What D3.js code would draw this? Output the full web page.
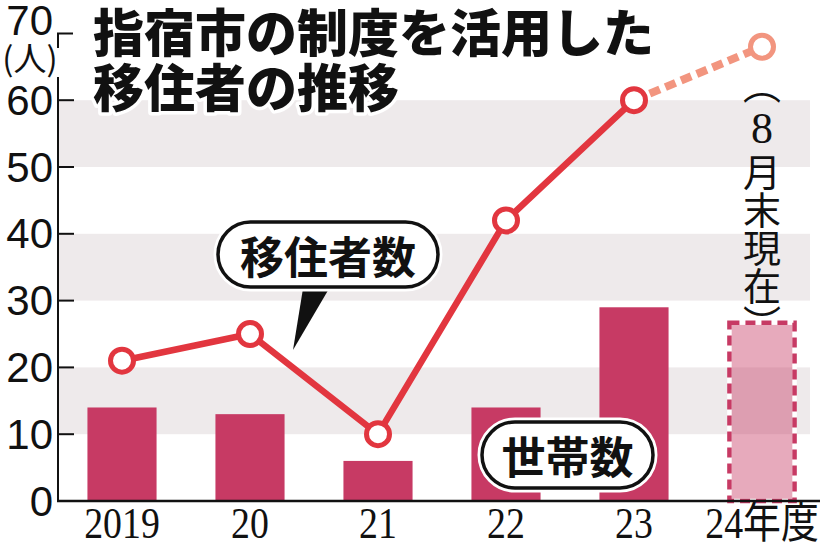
<!DOCTYPE html>
<html><head><meta charset="utf-8">
<script src="https://cdn.jsdelivr.net/npm/d3@7"></script>
<style>
html,body{margin:0;padding:0;background:#fff;}
svg{display:block;}
</style></head>
<body>
<svg id="chart" width="827" height="544"></svg>
<script>
const categories = ["2019", "20", "21", "22", "23", "24年度"];
const households = [14, 13, 6, 14, 29, 27];
const migrants = [21, 25, 10, 42, 60, 68];
const yTicks = [0, 10, 20, 30, 40, 50, 60, 70];
const bandRanges = [[10, 20], [30, 40], [50, 60]];
const titleLines = ["指宿市の制度を活用した", "移住者の推移"];
const unitLabel = "(人)";
const noteParts = ["（", "8", "月末現在）"];
const legendMigrants = "移住者数";
const legendHouseholds = "世帯数";

const svg = d3.select("#chart");
const x = d3.scaleBand().domain(categories).range([58, 826]).paddingInner(0.46).paddingOuter(0.23);
const y = d3.scaleLinear().domain([0, 70]).range([501, 33.4]);

const BAR = "#c73a64", LINE = "#e2363f", DASH = "#f2957f";

// gray bands
svg.append("g").selectAll("rect").data(bandRanges).join("rect")
  .attr("x", 58).attr("width", 752)
  .attr("y", d => y(d[1])).attr("height", d => y(d[0]) - y(d[1]))
  .attr("fill", "#eeeaeb");

// bars
const last = categories.length - 1;
svg.append("g").selectAll("rect").data(households.slice(0, last)).join("rect")
  .attr("x", (d, i) => x(categories[i])).attr("width", x.bandwidth())
  .attr("y", d => y(d)).attr("height", d => y(0) - y(d))
  .attr("fill", BAR);
// partial year bar
const bx = x(categories[last]), bw = x.bandwidth(), bv = households[last];
svg.append("rect").attr("x", bx + 2).attr("width", bw - 4)
  .attr("y", y(bv) + 2).attr("height", y(0) - y(bv) - 2)
  .attr("fill", BAR).attr("fill-opacity", 0.43)
  .attr("stroke", "#fff").attr("stroke-width", 4.5);
svg.append("rect").attr("x", bx + 2).attr("width", bw - 4)
  .attr("y", y(bv) + 2).attr("height", y(0) - y(bv) - 2)
  .attr("fill", "none")
  .attr("stroke", BAR).attr("stroke-width", 4.5).attr("stroke-dasharray", "10,6");

// axes
svg.append("line").attr("x1", 58).attr("x2", 58).attr("y1", 77).attr("y2", y(0) + 1)
  .attr("stroke", "#111").attr("stroke-width", 2);
svg.append("path").attr("d", `M58,48V${y(70)}H73`).attr("fill", "none")
  .attr("stroke", "#111").attr("stroke-width", 2);
svg.append("g").selectAll("line").data(yTicks.slice(0, -1)).join("line")
  .attr("x1", 58).attr("x2", 74).attr("y1", d => y(d)).attr("y2", d => y(d))
  .attr("stroke", "#111").attr("stroke-width", 2);
svg.append("line").attr("x1", 57).attr("x2", 820).attr("y1", y(0)).attr("y2", y(0))
  .attr("stroke", "#111").attr("stroke-width", 2.5);

// y labels
svg.append("g").selectAll("text").data(yTicks).join("text")
  .attr("x", 53).attr("y", d => d === 70 ? y(d) - 13 : y(d))
  .attr("text-anchor", "end").attr("dominant-baseline", "central")
  .attr("font-family", "Liberation Sans, Arial, sans-serif").attr("font-size", 42)
  .attr("fill", "#111").text(d => d);
svg.append("text").attr("x", 30).attr("y", 57).attr("text-anchor", "middle")
  .attr("dominant-baseline", "central")
  .attr("font-family", "Noto Sans CJK JP, sans-serif").attr("font-size", 33)
  .attr("fill", "#111").text(unitLabel);

// x labels
svg.append("g").selectAll("text").data(categories).join("text")
  .attr("transform", d => `translate(${x(d) + x.bandwidth() / 2},538) scale(0.86,1)`)
  .attr("text-anchor", "middle")
  .attr("font-family", "Liberation Serif, Noto Sans CJK JP, serif").attr("font-size", 44)
  .attr("fill", "#111").text(d => d);

// line
const pts = migrants.map((v, i) => [x(categories[i]) + x.bandwidth() / 2, y(v)]);
svg.append("path").attr("d", d3.line()(pts.slice(last - 1)))
  .attr("fill", "none").attr("stroke", DASH).attr("stroke-width", 8)
  .attr("stroke-dasharray", "11,6");
svg.append("path").attr("d", d3.line()(pts.slice(0, last)))
  .attr("fill", "none").attr("stroke", LINE).attr("stroke-width", 6.5)
  .attr("stroke-linejoin", "round");
svg.append("g").selectAll("circle").data(pts).join("circle")
  .attr("cx", d => d[0]).attr("cy", d => d[1]).attr("r", 11.5)
  .attr("fill", "#fff").attr("stroke", (d, i) => i === last ? DASH : LINE)
  .attr("stroke-width", 5);

// vertical note
const nx = x(categories[last]) + x.bandwidth() / 2;
const note = svg.append("text")
  .attr("x", nx).attr("y", 66)
  .style("writing-mode", "vertical-rl")
  .style("text-orientation", "upright")
  .attr("font-family", "Noto Sans CJK JP, sans-serif")
  .attr("font-size", 38).attr("fill", "#111");
note.selectAll("tspan").data(noteParts).join("tspan")
  .attr("font-family", d => d === "8" ? "Liberation Serif, serif" : null)
  .attr("font-size", d => d === "8" ? 44 : null)
  .text(d => d);

// title
svg.append("g").selectAll("text").data(titleLines).join("text")
  .attr("x", 93).attr("y", (d, i) => 52 + i * 55)
  .attr("font-family", "Noto Sans CJK JP, sans-serif").attr("font-weight", 900)
  .attr("font-size", 51).attr("fill", "#111")
  .attr("stroke", "#fff").attr("stroke-width", 7).attr("paint-order", "stroke")
  .attr("stroke-linejoin", "round")
  .text(d => d);

// legend pills
function pill(cx, cy, w, h, label) {
  const g = svg.append("g");
  g.append("rect").attr("x", cx - w / 2).attr("y", cy - h / 2).attr("width", w).attr("height", h)
    .attr("rx", h / 2).attr("fill", "#fff").attr("stroke", "#fff").attr("stroke-width", 9);
  g.append("rect").attr("x", cx - w / 2).attr("y", cy - h / 2).attr("width", w).attr("height", h)
    .attr("rx", h / 2).attr("fill", "#fff").attr("stroke", "#111").attr("stroke-width", 3.5);
  g.append("text").attr("x", cx).attr("y", cy).attr("text-anchor", "middle")
    .attr("dominant-baseline", "central")
    .attr("font-family", "Noto Sans CJK JP, sans-serif").attr("font-weight", 700)
    .attr("font-size", 44).attr("fill", "#111").text(label);
  return g;
}
svg.append("path").attr("d", "M306,270L340,270L293,350Z").attr("fill", "#111");
pill(328, 254.5, 220, 65, legendMigrants);
pill(567.5, 455, 171, 66, legendHouseholds);
</script>
</body></html>
